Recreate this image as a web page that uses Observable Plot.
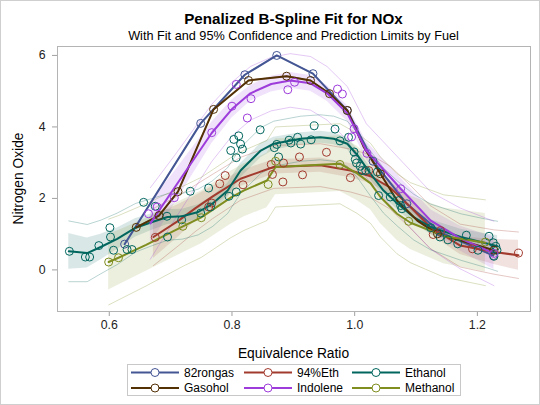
<!DOCTYPE html>
<html><head><meta charset="utf-8">
<script src="https://cdn.jsdelivr.net/npm/d3@7"></script>
<script src="https://cdn.jsdelivr.net/npm/@observablehq/plot@0.6"></script>
<style>
body{margin:0;background:#fff;}
#wrap{position:relative;width:540px;height:405px;overflow:hidden;font-family:"Liberation Sans",Arial,sans-serif;background:#fff;}
#chart{position:absolute;left:0;top:0;}
#over{position:absolute;left:0;top:0;pointer-events:none;}
#bd{position:absolute;left:0;top:0;width:540px;height:405px;box-sizing:border-box;border:1px solid #cfcfcf;pointer-events:none;}
</style></head><body>
<div id="wrap"><div id="chart"></div><svg id="over" width="540" height="405"></svg><div id="bd"></div></div>
<script>
// ---------- data ----------
const fuels = ["82rongas","94%Eth","Ethanol","Gasohol","Indolene","Methanol"];
const colors = ["#445694","#A23A2E","#01665E","#543005","#9D3CDB","#7F8E1F"];
const xTicks = [0.6,0.8,1.0,1.2];
const yTicks = [0,2,4,6];

// observed points
const rongasX = [0.625,0.749,0.821,0.873,0.932,0.988,1.030,1.085,1.140,1.226];
const rongasY = [0.72,4.10,5.46,6.00,5.49,4.46,3.04,1.85,1.05,0.40];
const eth94X = [0.675,0.762,0.767,0.780,0.789,0.818,0.864,0.866,0.884,0.883,0.910,0.915,0.954,0.993,1.023,1.128,1.140,1.192,1.267];
const eth94Y = [0.91,1.76,1.87,2.41,2.64,2.38,2.95,2.67,2.99,2.46,3.16,2.66,3.29,2.58,2.78,0.99,1.10,0.59,0.47];
const ethanolX = [0.535,0.561,0.568,0.583,0.601,0.602,0.607,0.629,0.637,0.656,0.675,0.694,0.695,0.718,0.732,0.749,0.762,0.765,0.795,0.807,0.798,0.803,0.811,0.814,0.817,0.807,0.846,0.869,0.873,0.876,0.893,0.896,0.907,0.912,0.929,0.934,0.968,0.976,0.990,0.999,1.001,1.003,1.009,1.012,1.018,1.037,1.039,1.058,1.072,1.075,1.077,1.124,1.139,1.152,1.168,1.182,1.201,1.219,1.226,1.230,1.232,1.227];
const ethanolY = [0.52,0.36,0.36,0.68,1.18,0.92,0.55,0.57,0.57,1.89,1.78,1.50,0.92,1.40,2.20,1.59,2.29,1.76,2.06,2.18,3.34,3.65,3.75,3.52,3.38,3.14,3.92,3.42,3.51,3.16,3.63,3.55,3.71,3.52,3.64,4.03,3.94,3.61,3.71,3.30,3.09,2.99,2.90,2.78,2.78,2.74,2.08,2.04,1.94,1.80,1.71,1.18,0.92,0.84,0.73,0.97,0.55,0.94,0.76,0.66,0.55,0.38];
const gasoholX = [0.644,0.681,0.712,0.770,0.827,0.889,0.928,0.959,0.988,1.042,1.135,1.227];
const gasoholY = [1.19,1.52,2.19,4.49,5.30,5.42,5.30,4.93,4.46,2.69,1.01,0.55];
const indoleneX = [0.664,0.678,0.706,0.767,0.800,0.807,0.825,0.831,0.891,0.902,0.972,0.980,0.999,0.995,1.020,1.075,1.227];
const indoleneY = [1.57,1.76,2.02,3.84,4.58,5.19,4.25,4.79,5.04,5.25,5.06,4.92,3.95,3.72,3.26,2.27,0.46];
const methanolX = [0.599,0.615,0.720,0.750,0.859,0.871,0.976,1.088,1.213];
const methanolY = [0.22,0.34,1.22,1.46,2.39,3.04,2.95,1.36,0.78];

// penalized B-spline fit, with half widths of confidence (CLM) and prediction (CLI) limits
const rongasFitX = [0.625,0.749,0.821,0.873,0.932,0.988,1.030,1.085,1.140,1.226];
const rongasFit  = [0.72,4.10,5.46,6.00,5.49,4.46,3.04,1.85,1.05,0.40];
const rongasClm  = [0.01,0.01,0.01,0.01,0.01,0.01,0.01,0.01,0.01,0.01];
const rongasCli  = [0.01,0.01,0.01,0.01,0.01,0.01,0.01,0.01,0.01,0.01];

const eth94FitX = [0.672,0.713,0.740,0.768,0.814,0.868,0.944,0.993,1.026,1.058,1.091,1.123,1.172,1.227,1.267];
const eth94Fit  = [0.92,1.38,1.72,2.05,2.55,2.88,2.93,2.78,2.62,2.30,1.76,1.20,0.68,0.50,0.41];
const eth94Clm  = [0.60,0.45,0.35,0.28,0.22,0.20,0.20,0.20,0.20,0.20,0.20,0.20,0.25,0.35,0.42];
const eth94Cli  = [0.80,0.70,0.65,0.62,0.60,0.60,0.60,0.60,0.60,0.60,0.60,0.60,0.60,0.62,0.65];

const ethanolFitX = [0.534,0.564,0.586,0.613,0.643,0.670,0.695,0.719,0.745,0.768,0.793,0.814,0.847,0.868,0.912,0.944,0.966,0.988,1.005,1.026,1.047,1.070,1.096,1.124,1.173,1.217,1.233];
const ethanolFit  = [0.52,0.47,0.64,0.87,1.18,1.34,1.48,1.50,1.62,1.85,2.22,2.78,3.34,3.53,3.67,3.71,3.67,3.53,3.20,2.69,2.22,1.85,1.48,1.20,0.92,0.73,0.66];
const ethanolClm  = [0.50,0.42,0.36,0.30,0.26,0.23,0.21,0.20,0.20,0.20,0.20,0.20,0.20,0.18,0.17,0.17,0.17,0.17,0.17,0.17,0.17,0.17,0.18,0.20,0.22,0.27,0.30];
const ethanolCli  = [0.85,0.80,0.75,0.72,0.68,0.66,0.65,0.64,0.64,0.64,0.64,0.64,0.64,0.63,0.63,0.63,0.63,0.63,0.63,0.63,0.63,0.63,0.64,0.64,0.65,0.68,0.70];

const gasoholFitX = [0.644,0.681,0.712,0.770,0.827,0.889,0.928,0.959,0.988,1.015,1.042,1.069,1.102,1.135,1.227];
const gasoholFit  = [1.19,1.52,2.19,4.49,5.30,5.42,5.30,4.93,4.46,3.43,2.69,1.94,1.38,1.01,0.55];
const gasoholClm  = [0.01,0.01,0.01,0.01,0.01,0.01,0.01,0.01,0.01,0.01,0.01,0.01,0.01,0.01,0.01];
const gasoholCli  = [0.01,0.01,0.01,0.01,0.01,0.01,0.01,0.01,0.01,0.01,0.01,0.01,0.01,0.01,0.01];

const indoleneFitX = [0.667,0.706,0.767,0.800,0.830,0.864,0.895,0.928,0.955,0.988,1.019,1.075,1.124,1.172,1.227];
const indoleneFit  = [1.30,2.29,3.83,4.50,4.94,5.20,5.30,5.22,4.94,4.38,3.34,2.27,1.38,0.88,0.46];
const indoleneClm  = [0.60,0.45,0.30,0.25,0.22,0.22,0.22,0.22,0.22,0.22,0.25,0.30,0.30,0.35,0.45];
const indoleneCli  = [1.00,0.90,0.80,0.75,0.75,0.75,0.75,0.75,0.75,0.75,0.75,0.80,0.80,0.85,0.90];

const methanolFitX = [0.599,0.615,0.660,0.720,0.750,0.798,0.819,0.857,0.871,0.976,1.004,1.026,1.042,1.069,1.091,1.145,1.213];
const methanolFit  = [0.22,0.34,0.70,1.22,1.47,2.02,2.22,2.50,2.88,2.97,2.70,2.42,2.04,1.57,1.32,0.95,0.76];
const methanolClm  = [0.78,0.76,0.74,0.74,0.74,0.74,0.74,0.76,0.78,0.78,0.76,0.74,0.74,0.74,0.75,0.78,0.82];
const methanolCli  = [1.20,1.18,1.15,1.12,1.12,1.12,1.12,1.12,1.12,1.12,1.12,1.12,1.12,1.12,1.12,1.15,1.20];

// ---------- tables ----------
const series = [
  ["82rongas", rongasX, rongasY, rongasFitX, rongasFit, rongasClm, rongasCli],
  ["94%Eth", eth94X, eth94Y, eth94FitX, eth94Fit, eth94Clm, eth94Cli],
  ["Ethanol", ethanolX, ethanolY, ethanolFitX, ethanolFit, ethanolClm, ethanolCli],
  ["Gasohol", gasoholX, gasoholY, gasoholFitX, gasoholFit, gasoholClm, gasoholCli],
  ["Indolene", indoleneX, indoleneY, indoleneFitX, indoleneFit, indoleneClm, indoleneCli],
  ["Methanol", methanolX, methanolY, methanolFitX, methanolFit, methanolClm, methanolCli]
];
const points = [], fits = [];
for (const [fuel, px, py, fx, f, clm, cli] of series) {
  px.forEach((x, i) => points.push({fuel, x, y: py[i]}));
  fx.forEach((x, i) => fits.push({fuel, x, fit: f[i],
    clmLo: f[i] - clm[i], clmHi: f[i] + clm[i], cliLo: f[i] - cli[i], cliHi: f[i] + cli[i]}));
}

const FONT = '"Liberation Sans", Arial, sans-serif';
const chart = Plot.plot({
  width: 540, height: 405,
  marginTop: 46, marginBottom: 94, marginLeft: 57, marginRight: 10,
  style: {fontFamily: FONT, fontSize: "12.3px", color: "#222", background: "transparent"},
  x: {domain: [0.5156, 1.2866]},
  y: {domain: [-1.164, 6.25]},
  color: {domain: fuels, range: colors},
  marks: [
    Plot.areaY(fits, {x: "x", y1: "clmLo", y2: "clmHi", z: "fuel", fill: "fuel", fillOpacity: 0.15}),
    Plot.line(fits, {x: "x", y: "cliLo", z: "fuel", stroke: "fuel", strokeOpacity: 0.28, strokeWidth: 1}),
    Plot.line(fits, {x: "x", y: "cliHi", z: "fuel", stroke: "fuel", strokeOpacity: 0.28, strokeWidth: 1}),
    Plot.line(fits, {x: "x", y: "fit", z: "fuel", stroke: "fuel", strokeWidth: 2}),
    Plot.dot(points, {x: "x", y: "y", stroke: "fuel", r: 4, strokeWidth: 1}),
    Plot.axisX({ticks: xTicks, tickFormat: d3.format(".1f"), tickSize: 5, tickPadding: 4, stroke: "#a0a0a0", fill: "#222", label: null}),
    Plot.axisY({ticks: yTicks, tickFormat: d3.format("d"), tickSize: 5, tickPadding: 7, stroke: "#a0a0a0", fill: "#222", label: null}),
    Plot.frame({stroke: "#b4b4b4"})
  ]
});
document.getElementById("chart").appendChild(chart);

// ---------- titles, axis labels, legend ----------
const ns = "http://www.w3.org/2000/svg";
const over = document.getElementById("over");
function el(tag, attrs, text) {
  const e = document.createElementNS(ns, tag);
  for (const k in attrs) e.setAttribute(k, attrs[k]);
  if (text != null) e.textContent = text;
  over.appendChild(e);
  return e;
}
el("text", {x: 293.5, y: 24, "text-anchor": "middle", "font-family": FONT, "font-size": 15.2, "font-weight": "bold", fill: "#000"}, "Penalized B-Spline Fit for NOx");
el("text", {x: 293.5, y: 40, "text-anchor": "middle", "font-family": FONT, "font-size": 12.7, fill: "#000"}, "With Fit and 95% Confidence and Prediction Limits by Fuel");
el("text", {x: 293.5, y: 358, "text-anchor": "middle", "font-family": FONT, "font-size": 13.8, fill: "#000"}, "Equivalence Ratio");
el("text", {x: 0, y: 0, transform: "translate(23,178.5) rotate(-90)", "text-anchor": "middle", "font-family": FONT, "font-size": 13.8, fill: "#000"}, "Nitrogen Oxide");

el("rect", {x: 127.5, y: 364.5, width: 333, height: 31, fill: "none", stroke: "#c8c8c8"});
const colX = [131, 244, 352];
const rowY = [372.5, 388];
fuels.forEach((f, i) => {
  const cx = colX[i % 3], cy = rowY[Math.floor(i / 3)], c = colors[i];
  el("line", {x1: cx, x2: cx + 48, y1: cy, y2: cy, stroke: c, "stroke-width": 2});
  el("circle", {cx: cx + 24, cy: cy, r: 4, fill: "#fff", stroke: c, "stroke-width": 1});
  el("text", {x: cx + 53, y: cy + 4.3, "font-family": FONT, "font-size": 12, fill: "#000"}, f);
});
</script>
</body></html>
